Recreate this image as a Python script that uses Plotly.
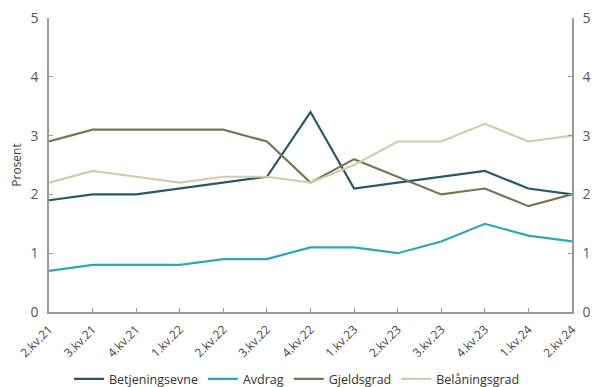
import plotly.graph_objects as go

quarters = ["2.kv.21", "3.kv.21", "4.kv.21", "1.kv.22", "2.kv.22", "3.kv.22", "4.kv.22",
            "1.kv.23", "2.kv.23", "3.kv.23", "4.kv.23", "1.kv.24", "2.kv.24"]
betjeningsevne = [1.9, 2.0, 2.0, 2.1, 2.2, 2.3, 3.4, 2.1, 2.2, 2.3, 2.4, 2.1, 2.0]
avdrag = [0.7, 0.8, 0.8, 0.8, 0.9, 0.9, 1.1, 1.1, 1.0, 1.2, 1.5, 1.3, 1.2]
gjeldsgrad = [2.9, 3.1, 3.1, 3.1, 3.1, 2.9, 2.2, 2.6, 2.3, 2.0, 2.1, 1.8, 2.0]
belaningsgrad = [2.2, 2.4, 2.3, 2.2, 2.3, 2.3, 2.2, 2.5, 2.9, 2.9, 3.2, 2.9, 3.0]
y_ticks = [0, 1, 2, 3, 4, 5]

series = [
    ("Betjeningsevne", betjeningsevne, "#245a66"),
    ("Avdrag", avdrag, "#2aa8b8"),
    ("Gjeldsgrad", gjeldsgrad, "#7b7356"),
    ("Belåningsgrad", belaningsgrad, "#d3cba9"),
]

xs = list(range(len(quarters)))
fig = go.Figure()
for name, vals, color in series:
    fig.add_trace(go.Scatter(x=xs, y=vals, name=name, mode="lines",
                             line=dict(color=color, width=2.2)))
# empty trace so the right-hand value axis gets drawn
fig.add_trace(go.Scatter(x=[], y=[], yaxis="y2", showlegend=False, hoverinfo="skip"))

axis_color = "#9a9a9a"
font = "Open Sans, Noto Sans, sans-serif"
common_y = dict(range=[0, 5], tickvals=y_ticks, showgrid=False, zeroline=False,
                showline=True, linecolor=axis_color, linewidth=1.5, ticks="inside",
                ticklen=4, tickcolor=axis_color, automargin=False,
                ticklabelstandoff=6, tickfont=dict(size=14, color="#555"))

fig.update_layout(
    width=594, height=387,
    margin=dict(l=49, r=22, t=18, b=75),
    paper_bgcolor="white", plot_bgcolor="white",
    font=dict(family=font, color="#444"),
    showlegend=True,
    legend=dict(orientation="h", x=0.5, xanchor="center", xref="container",
                y=0.059, yanchor="top", yref="container", borderwidth=0,
                font=dict(size=12.5, color="#333"), tracegroupgap=0),
    xaxis=dict(range=[0, 12], tickvals=xs, ticktext=quarters, automargin=False,
               tickangle=-45, showgrid=False, zeroline=False, showline=True,
               linecolor=axis_color, linewidth=1.5, ticks="inside", ticklen=4,
               tickcolor=axis_color, ticklabelstandoff=4,
               tickfont=dict(size=12, color="#444")),
    yaxis=dict(**common_y,
               title=dict(text="Prosent", font=dict(size=12, color="#444"), standoff=6)),
    yaxis2=dict(**common_y, overlaying="y", side="right", anchor="x"),
)

fig.write_html("out.html")
